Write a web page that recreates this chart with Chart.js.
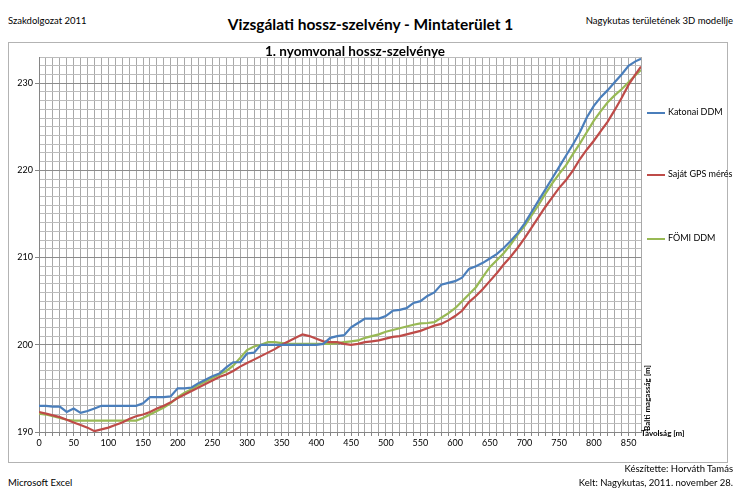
<!DOCTYPE html>
<html>
<head>
<meta charset="utf-8">
<script src="https://cdn.jsdelivr.net/npm/chart.js@4"></script>
<style>
  body { margin: 0; width: 741px; height: 499px; background: #fff; font-family: Lato, "Noto Sans", sans-serif; position: relative; overflow: hidden; }
  .t { position: absolute; white-space: nowrap; color: #000; }
  #frame { position: absolute; left: 8px; top: 42px; width: 718px; height: 419px; border: 1px solid #b3b3b3; }
  #c { position: absolute; left: 9px; top: 43px; }
  .leg { position: absolute; font-size: 9px; white-space: nowrap; }
  .leg span { display: inline-block; width: 18px; height: 2px; vertical-align: middle; margin-right: 3px; }
</style>
</head>
<body>
<div class="t" style="left:8px;top:15px;font-size:9.5px;">Szakdolgozat 2011</div>
<div class="t" style="left:0;width:741px;text-align:center;top:15px;font-size:15.5px;font-weight:bold;">Vizsgálati hossz-szelvény - Mintaterület 1</div>
<div class="t" style="right:8px;top:15px;font-size:9.5px;">Nagykutas területének 3D modellje</div>
<div id="frame"></div>
<canvas id="c" width="717" height="418"></canvas>
<div class="t" style="left:255px;width:200px;text-align:center;top:43px;font-size:13.5px;font-weight:bold;">1. nyomvonal hossz-szelvénye</div>
<div id="legend"></div>
<div class="t" style="left:641px;top:428px;font-size:8px;font-weight:bold;">Távolság [m]</div>
<div class="t" style="left:611px;top:393px;font-size:8px;font-weight:bold;transform:rotate(-90deg);transform-origin:center;width:72px;text-align:center;">Balti magasság [m]</div>
<div class="t" style="right:8px;top:463px;font-size:9.5px;">Készítette: Horváth Tamás</div>
<div class="t" style="left:8px;top:477px;font-size:9.5px;">Microsoft Excel</div>
<div class="t" style="right:8px;top:477px;font-size:9.5px;">Kelt: Nagykutas, 2011. november 28.</div>
<script>
// Távolság [m]
var distances = [0, 10, 20, 30, 40, 50, 60, 70, 80, 90,
  100, 110, 120, 130, 140, 150, 160, 170, 180, 190,
  200, 210, 220, 230, 240, 250, 260, 270, 280, 290,
  300, 310, 320, 330, 340, 350, 360, 370, 380, 390,
  400, 410, 420, 430, 440, 450, 460, 470, 480, 490,
  500, 510, 520, 530, 540, 550, 560, 570, 580, 590,
  600, 610, 620, 630, 640, 650, 660, 670, 680, 690,
  700, 710, 720, 730, 740, 750, 760, 770, 780, 790,
  800, 810, 820, 830, 840, 850, 860, 868];

var katonai = [193.0, 193.0, 192.9, 192.9, 192.3, 192.7, 192.2, 192.4, 192.7, 193.0,
  193.0, 193.0, 193.0, 193.0, 193.0, 193.3, 194.0, 194.0, 194.0, 194.1,
  195.0, 195.0, 195.1, 195.6, 196.0, 196.4, 196.7, 197.4, 198.0, 198.0,
  199.0, 199.1, 200.0, 200.0, 200.0, 200.0, 200.0, 200.0, 200.0, 200.0,
  200.0, 200.1, 200.8, 201.0, 201.1, 202.0, 202.5, 203.0, 203.0, 203.0,
  203.3, 203.9, 204.0, 204.2, 204.8, 205.0, 205.6, 206.0, 206.9, 207.1,
  207.3, 207.7, 208.7, 209.0, 209.4, 209.9, 210.4, 211.1, 211.9, 212.8,
  213.9, 215.2, 216.5, 217.8, 219.1, 220.4, 221.7, 223.0, 224.4, 226.1,
  227.4, 228.4, 229.2, 230.1, 231.0, 232.0, 232.5, 232.8];

var sajatGps = [192.3, 192.1, 191.9, 191.7, 191.4, 191.1, 190.8, 190.5, 190.1, 190.3,
  190.5, 190.8, 191.1, 191.5, 191.8, 192.0, 192.3, 192.7, 193.0, 193.4,
  193.9, 194.3, 194.7, 195.1, 195.5, 195.9, 196.3, 196.6, 197.0, 197.5,
  197.9, 198.3, 198.7, 199.1, 199.5, 200.0, 200.4, 200.8, 201.2, 201.0,
  200.7, 200.4, 200.3, 200.3, 200.1, 200.0, 200.1, 200.3, 200.4, 200.5,
  200.7, 200.9, 201.0, 201.2, 201.4, 201.6, 201.9, 202.2, 202.4, 202.8,
  203.3, 203.9, 204.9, 205.6, 206.4, 207.3, 208.2, 209.2, 210.1, 211.1,
  212.2, 213.4, 214.6, 215.8, 216.9, 218.0, 218.9, 220.0, 221.3, 222.4,
  223.4, 224.5, 225.6, 226.9, 228.3, 229.8, 231.0, 231.9];

var fomi = [192.1, 192.0, 191.8, 191.6, 191.4, 191.3, 191.3, 191.3, 191.3, 191.3,
  191.3, 191.3, 191.3, 191.3, 191.3, 191.6, 192.0, 192.4, 192.8, 193.3,
  194.0, 194.5, 194.9, 195.4, 195.8, 196.2, 196.6, 197.0, 197.6, 198.5,
  199.4, 199.8, 200.0, 200.3, 200.3, 200.2, 200.1, 200.1, 200.1, 200.1,
  200.1, 200.1, 200.1, 200.2, 200.3, 200.4, 200.5, 200.8, 201.0, 201.2,
  201.5, 201.7, 201.9, 202.1, 202.3, 202.45, 202.5, 202.6, 203.1, 203.6,
  204.2, 205.0, 205.8, 206.6, 207.8, 208.9, 209.7, 210.5, 211.5, 212.6,
  213.6, 214.8, 216.0, 217.3, 218.5, 219.6, 220.6, 221.9, 223.1, 224.4,
  225.7, 226.8, 227.8, 228.6, 229.3, 230.1, 230.9, 231.5];

var seriesNames = ['Katonai DDM', 'Saját GPS mérés', 'FÖMI DDM'];
var seriesColors = ['#4a7ebb', '#be4b48', '#98b954'];
var yTickLabels = [190, 200, 210, 220, 230];
var xTickLabels = [0, 50, 100, 150, 200, 250, 300, 350, 400, 450, 500, 550, 600, 650, 700, 750, 800, 850];

function pts(vals) {
  return vals.map(function (v, i) { return { x: distances[i], y: v }; });
}

var allSeries = [katonai, sajatGps, fomi];
var datasets = allSeries.map(function (vals, i) {
  return {
    label: seriesNames[i],
    data: pts(vals),
    borderColor: seriesColors[i],
    borderWidth: 2.2,
    pointRadius: 0,
    tension: 0,
    fill: false
  };
});

// legend, placed like the Excel one
var legendTops = [106, 168, 232];
var lg = document.getElementById('legend');
seriesNames.forEach(function (name, i) {
  var d = document.createElement('div');
  d.className = 'leg';
  d.style.left = '647px';
  d.style.top = legendTops[i] + 'px';
  d.innerHTML = '<span style="background:' + seriesColors[i] + '"></span>' + name;
  lg.appendChild(d);
});

Chart.defaults.font.family = 'Lato, "Noto Sans", sans-serif';
Chart.defaults.color = '#000';

var ctx = document.getElementById('c').getContext('2d');
var chart = new Chart(ctx, {
  type: 'line',
  data: { datasets: datasets },
  options: {
    responsive: false,
    animation: false,
    devicePixelRatio: 1,
    layout: { padding: { left: 0, right: 85, top: 14, bottom: 0 } },
    plugins: {
      legend: { display: false },
      tooltip: { enabled: false },
      title: { display: false }
    },
    scales: {
      x: {
        type: 'linear',
        min: 0,
        max: 868,
        afterFit: function (s) { s.height = 29; },
        afterBuildTicks: function (s) {
          var t = [];
          for (var v = 0; v <= 860; v += 10) t.push({ value: v });
          t.push({ value: 868 });
          s.ticks = t;
        },
        ticks: {
          autoSkip: false,
          maxRotation: 0,
          padding: 2,
          font: { size: 9 },
          callback: function (v) { return xTickLabels.indexOf(v) >= 0 ? String(v) : ''; }
        },
        grid: {
          color: '#a8a8a8',
          tickLength: 4,
          tickColor: function (c) { return c.tick && c.tick.value % 10 === 0 && c.tick.value < 868 ? '#868686' : 'rgba(0,0,0,0)'; }
        },
        border: { color: '#868686' }
      },
      y: {
        min: 190,
        max: 233,
        afterFit: function (s) { s.width = 30; },
        ticks: {
          stepSize: 1,
          autoSkip: false,
          padding: 2,
          font: { size: 9 },
          callback: function (v) { return yTickLabels.indexOf(v) >= 0 ? String(v) : ''; }
        },
        grid: {
          color: function (c) { return c.tick && c.tick.value % 10 === 0 ? '#8c8c8c' : '#bcbcbc'; },
          tickLength: 4,
          tickColor: function (c) { return c.tick && c.tick.value % 10 === 0 ? '#868686' : 'rgba(0,0,0,0)'; }
        },
        border: { color: '#868686' }
      }
    }
  }
});
</script>
</body>
</html>
